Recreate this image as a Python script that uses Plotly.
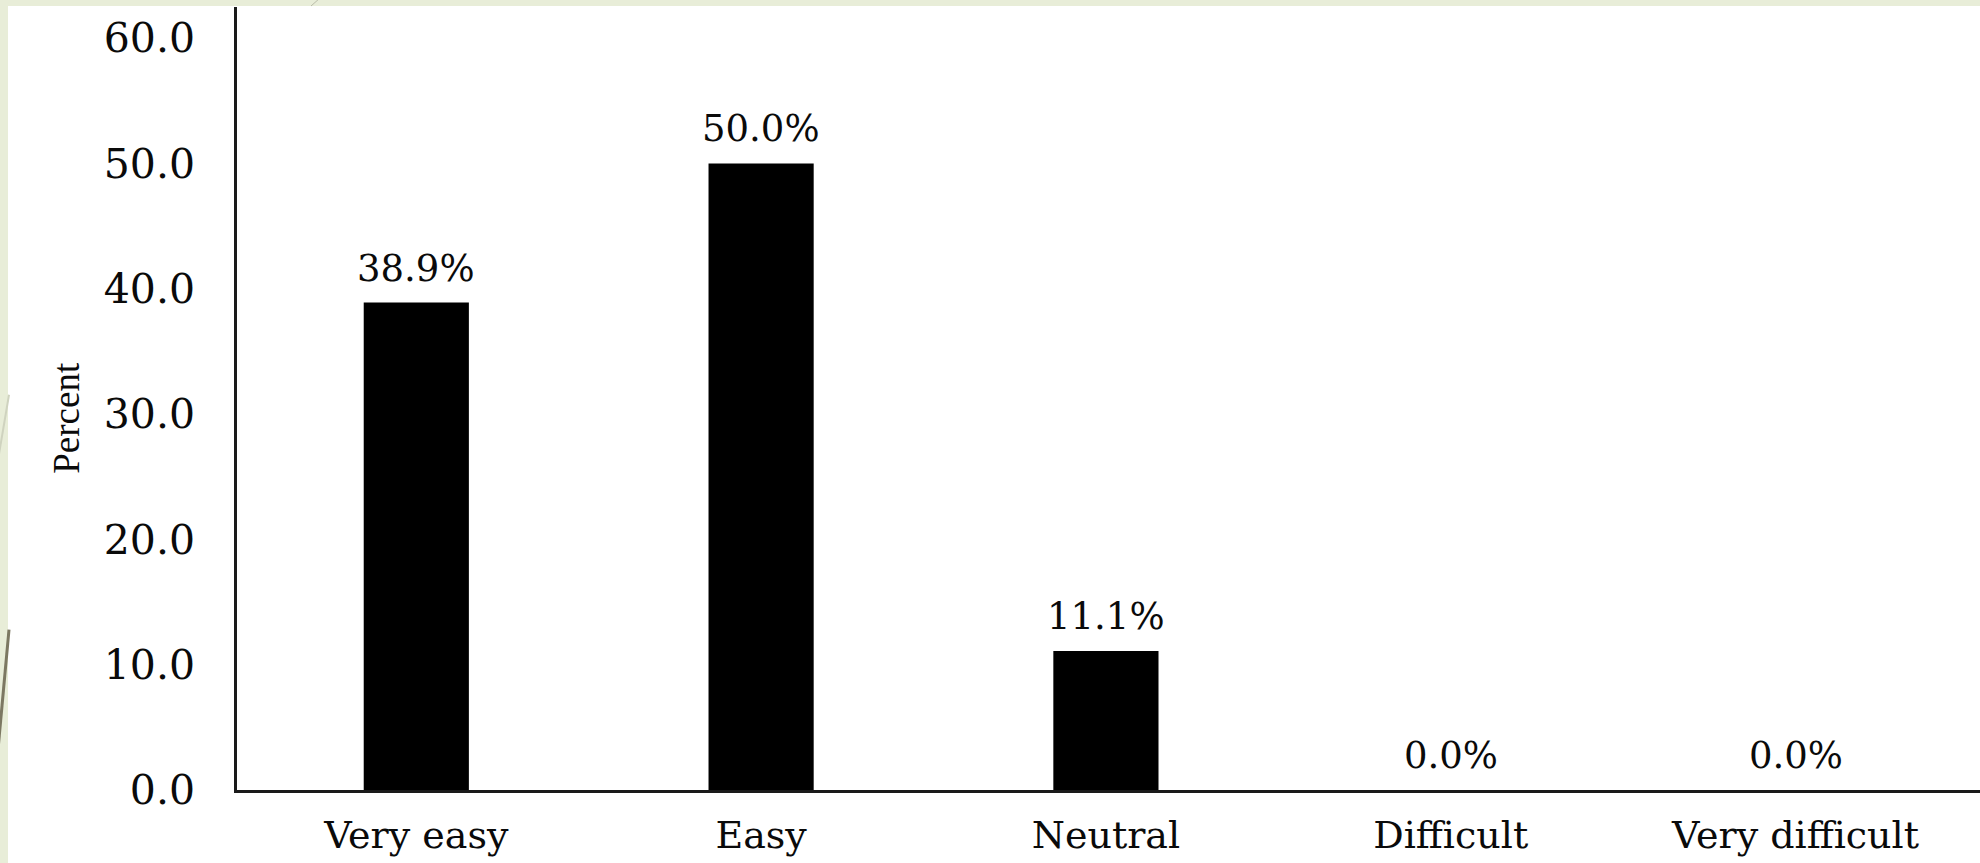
import plotly.graph_objects as go

categories = ["Very easy", "Easy", "Neutral", "Difficult", "Very difficult"]
percent = [38.9, 50.0, 11.1, 0.0, 0.0]
labels = ["38.9%", "50.0%", "11.1%", "0.0%", "0.0%"]
y_ticks = [0, 10, 20, 30, 40, 50, 60]
y_ticktext = ["0.0", "10.0", "20.0", "30.0", "40.0", "50.0", "60.0"]

W, H = 1980, 863
ML, MR, MT, MB = 237, 0, 7, 72.5
pw = W - ML - MR
ph = H - MT - MB

def px(xp):
    return (xp - ML) / pw

def py(yp):
    return (H - MB - yp) / ph

text_color = "#0a0a0a"
green = "#e8edd8"

fig = go.Figure()
fig.add_trace(go.Bar(
    x=categories, y=percent,
    marker=dict(color="#000000", line=dict(width=0)),
    showlegend=False, hoverinfo="skip",
))

annotations = []
for c, v, t in zip(categories, percent, labels):
    annotations.append(dict(
        x=c, y=v, xref="x", yref="y", text=t, showarrow=False,
        yanchor="bottom", yshift=11,
        font=dict(family="DejaVu Serif", size=37, color=text_color),
    ))
annotations.append(dict(
    x=0, y=py(418), xref="paper", yref="paper", text="Percent",
    textangle=-90, showarrow=False, xanchor="center", yanchor="middle",
    xshift=67 - ML,
    font=dict(family="Liberation Serif", size=37, color=text_color),
))

shapes = [
    # green slide margins
    dict(type="rect", xref="paper", yref="paper",
         x0=px(-5), y0=py(-5), x1=px(8), y1=py(H + 5),
         fillcolor=green, line=dict(width=0), layer="below"),
    dict(type="rect", xref="paper", yref="paper",
         x0=px(-5), y0=py(-5), x1=px(W + 5), y1=py(6),
         fillcolor=green, line=dict(width=0), layer="below"),
    # decorative slide lines
    dict(type="line", xref="paper", yref="paper",
         x0=px(9), y0=py(630), x1=px(-2), y1=py(750),
         line=dict(color="#7c7862", width=3), layer="below"),
    dict(type="line", xref="paper", yref="paper",
         x0=px(9), y0=py(395), x1=px(-2), y1=py(460),
         line=dict(color="#cfd3bf", width=2), layer="below"),
    dict(type="line", xref="paper", yref="paper",
         x0=px(320), y0=py(-2), x1=px(311), y1=py(6),
         line=dict(color="#b9bca8", width=1), layer="below"),
]

fig.update_layout(
    width=W, height=H,
    margin=dict(l=ML, r=MR, t=MT, b=MB, pad=0),
    paper_bgcolor="#ffffff",
    plot_bgcolor="rgba(0,0,0,0)",
    bargap=0.695,
    annotations=annotations,
    shapes=shapes,
    xaxis=dict(
        range=[-0.52, 4.535],
        showline=True, linecolor="#1a1a1a", linewidth=2.5,
        showgrid=False, zeroline=False, ticks="",
        tickfont=dict(family="DejaVu Serif", size=38, color=text_color),
        ticklabelstandoff=10,
    ),
    yaxis=dict(
        range=[0, 62.48],
        tickvals=y_ticks, ticktext=y_ticktext,
        showline=True, linecolor="#1a1a1a", linewidth=2.5,
        showgrid=False, zeroline=False, ticks="",
        tickfont=dict(family="DejaVu Serif", size=41, color=text_color),
        ticklabelstandoff=31,
    ),
)

fig.write_html(
    "out.html",
    config={"displayModeBar": False},
    post_script=(
        "document.documentElement.style.overflow='hidden';"
        "document.documentElement.style.background='#ffffff';"
        "document.body.style.margin='0px';"
        "document.body.style.overflow='hidden';"
        "document.body.style.background='#ffffff';"
    ),
)
